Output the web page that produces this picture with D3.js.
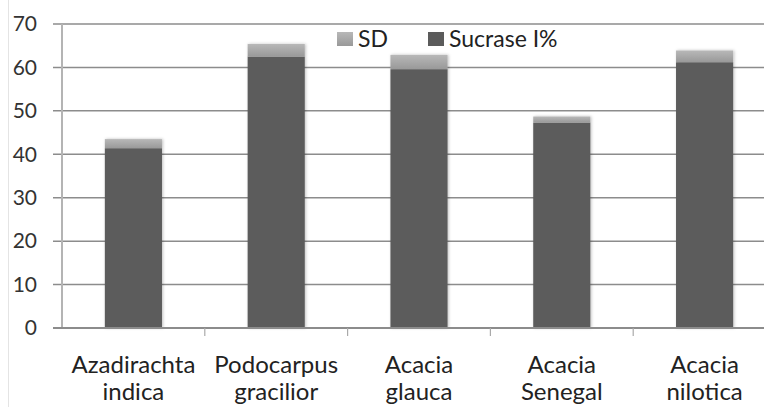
<!DOCTYPE html>
<html>
<head>
<meta charset="utf-8">
<script src="https://cdn.jsdelivr.net/npm/d3@7"></script>
<style>
  body { margin: 0; background: #fff; }
  svg { display: block; font-family: Lato, "Open Sans", sans-serif; }
</style>
</head>
<body>
<div id="chart"></div>
<script>
// categories and stacked values
var categories = [['Azadirachta', 'indica'], ['Podocarpus', 'gracilior'], ['Acacia', 'glauca'], ['Acacia', 'Senegal'], ['Acacia', 'nilotica']];
var sucrase = [41.4, 62.5, 59.6, 47.3, 61.2];
var sd = [2.1, 2.9, 3.3, 1.4, 2.7];
var yTicks = [0, 10, 20, 30, 40, 50, 60, 70];
var seriesNames = ['SD', 'Sucrase I%'];

var margin = {top: 24, right: -12, bottom: 79, left: 62},
    width = 764 - margin.left - margin.right,
    height = 407 - margin.top - margin.bottom;

var names = categories.map(function(c) { return c.join(' '); });

var x = d3.scaleBand().range([0, width]).domain(names).paddingInner(0.6).paddingOuter(0.3);
var y = d3.scaleLinear().range([height, 0]).domain([0, 70]);

var svg = d3.select('#chart').append('svg')
    .attr('width', 764)
    .attr('height', 407);

var defs = svg.append('defs');
var grad = defs.append('linearGradient').attr('id', 'sdGrad').attr('x1', 0).attr('y1', 0).attr('x2', 0).attr('y2', 1);
grad.append('stop').attr('offset', '0%').attr('stop-color', '#b8b8b8');
grad.append('stop').attr('offset', '100%').attr('stop-color', '#999');
var shadow = defs.append('filter').attr('id', 'shadow').attr('x', '-20%').attr('y', '-5%').attr('width', '140%').attr('height', '110%');
shadow.append('feDropShadow').attr('dx', 1).attr('dy', 0).attr('stdDeviation', 1.5).attr('flood-color', '#000').attr('flood-opacity', 0.25);

// faint outer frame line on the left
svg.append('line').attr('x1', 8.5).attr('x2', 8.5).attr('y1', 0).attr('y2', 407)
    .attr('stroke', '#e4e4e4').attr('stroke-width', 1);

var g = svg.append('g').attr('transform', 'translate(' + margin.left + ',' + margin.top + ')');

// gridlines
g.selectAll('.grid').data(yTicks.slice(1)).enter().append('line')
    .attr('x1', -9).attr('x2', width)
    .attr('y1', function(d) { return y(d); })
    .attr('y2', function(d) { return y(d); })
    .attr('stroke', '#8c8c8c').attr('stroke-width', 1.5);

// y axis labels
g.selectAll('.ylab').data(yTicks).enter().append('text')
    .attr('x', -25).attr('y', function(d) { return y(d); })
    .attr('dy', '0.35em')
    .attr('text-anchor', 'end')
    .attr('font-size', 21).attr('fill', '#333')
    .text(function(d) { return d; });

// bars
var bars = g.selectAll('.bar').data(names).enter().append('g').attr('filter', 'url(#shadow)');
bars.append('rect')
    .attr('x', function(d) { return x(d); })
    .attr('width', x.bandwidth())
    .attr('y', function(d, i) { return y(sucrase[i]); })
    .attr('height', function(d, i) { return height - y(sucrase[i]); })
    .attr('fill', '#5b5b5b');
bars.append('rect')
    .attr('x', function(d) { return x(d); })
    .attr('width', x.bandwidth())
    .attr('y', function(d, i) { return y(sucrase[i] + sd[i]); })
    .attr('height', function(d, i) { return y(sucrase[i]) - y(sucrase[i] + sd[i]); })
    .attr('fill', 'url(#sdGrad)');

// y axis line
g.append('line').attr('x1', 0).attr('x2', 0).attr('y1', 0).attr('y2', height + 1)
    .attr('stroke', '#b4b4b4').attr('stroke-width', 2);

// x axis
g.append('line').attr('x1', -9).attr('x2', width).attr('y1', height).attr('y2', height)
    .attr('stroke', '#8c8c8c').attr('stroke-width', 2);
var step = x.step();
g.selectAll('.xtick').data(names.slice(1)).enter().append('line')
    .attr('x1', function(d) { return x(d) - step * 0.3; })
    .attr('x2', function(d) { return x(d) - step * 0.3; })
    .attr('y1', height).attr('y2', height + 8)
    .attr('stroke', '#aaa').attr('stroke-width', 1.2);

var xl = g.selectAll('.xlab').data(categories).enter().append('text')
    .attr('text-anchor', 'middle')
    .attr('font-size', 24).attr('fill', '#222')
    .attr('transform', function(d, i) { return 'translate(' + (x(names[i]) + x.bandwidth() / 2) + ',' + (height + 45) + ')'; });
xl.append('tspan').attr('x', 0).attr('y', 0).text(function(d) { return d[0]; });
xl.append('tspan').attr('x', 0).attr('y', 27).text(function(d) { return d[1]; });

// legend
var legend = svg.append('g').attr('transform', 'translate(337,32)');
var legendX = [0, 91];
seriesNames.forEach(function(name, i) {
    legend.append('rect').attr('x', legendX[i]).attr('y', 0).attr('width', 16).attr('height', 14)
        .attr('fill', i === 0 ? 'url(#sdGrad)' : '#5b5b5b');
    legend.append('text').attr('x', legendX[i] + 21).attr('y', 15)
        .attr('font-size', 23).attr('fill', '#222')
        .text(name);
});
</script>
</body>
</html>
